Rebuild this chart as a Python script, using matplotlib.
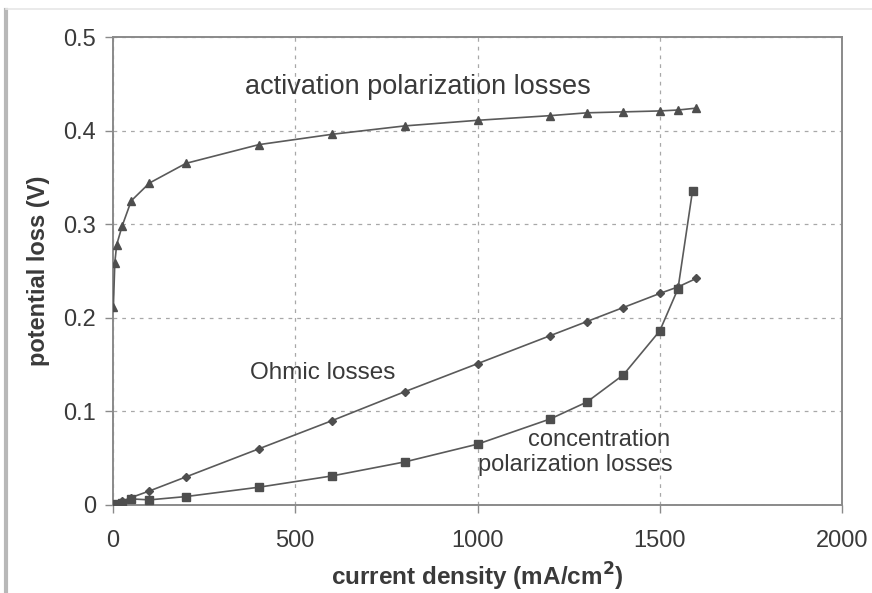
import matplotlib
matplotlib.use("Agg")
import matplotlib.pyplot as plt
from matplotlib.lines import Line2D

plt.rcParams['font.family'] = ['Liberation Sans', 'DejaVu Sans']

# current density (mA/cm2) and potential losses (V)
act_i = [1, 5, 10, 25, 50, 100, 200, 400, 600, 800, 1000, 1200, 1300, 1400, 1500, 1550, 1600]
act_v = [0.212, 0.259, 0.278, 0.298, 0.325, 0.344, 0.365, 0.385, 0.396, 0.405, 0.411,
         0.416, 0.419, 0.420, 0.421, 0.422, 0.424]

ohm_i = [0, 5, 10, 25, 50, 100, 200, 400, 600, 800, 1000, 1200, 1300, 1400, 1500, 1550, 1600]
ohm_v = [0.0, 0.001, 0.0015, 0.004, 0.008, 0.015, 0.030, 0.060, 0.090, 0.121, 0.151,
         0.181, 0.196, 0.211, 0.226, 0.233, 0.242]

conc_i = [0, 5, 10, 25, 50, 100, 200, 400, 600, 800, 1000, 1200, 1300, 1400, 1500, 1550, 1590]
conc_v = [0.0, 0.0005, 0.001, 0.002, 0.0065, 0.0055, 0.009, 0.019, 0.031, 0.046, 0.065,
          0.092, 0.110, 0.139, 0.186, 0.231, 0.336]

x_ticks = [0, 500, 1000, 1500, 2000]
y_ticks = [0, 0.1, 0.2, 0.3, 0.4, 0.5]
y_tick_labels = ['0', '0.1', '0.2', '0.3', '0.4', '0.5']

text_c = '#3a3a3a'
line_c = '#5a5a5a'
mark_c = '#4e4e4e'
frame_c = '#8a8a8a'
grid_c = '#a8a8a8'

fig = plt.figure(figsize=(8.72, 5.93), dpi=100)
ax = fig.add_axes([0.1296, 0.1484, 0.836, 0.7892])

ax.plot(act_i, act_v, color=line_c, lw=1.2, marker='^', ms=6, mfc=mark_c, mec=mark_c, zorder=3)
ax.plot(ohm_i, ohm_v, color=line_c, lw=1.2, marker='D', ms=4, mfc=mark_c, mec=mark_c, zorder=3)
ax.plot(conc_i, conc_v, color=line_c, lw=1.2, marker='s', ms=6, mfc=mark_c, mec=mark_c, zorder=3)

ax.set_xlim(0, 2000)
ax.set_ylim(0, 0.5)
ax.set_xticks(x_ticks)
ax.set_yticks(y_ticks)
ax.set_yticklabels(y_tick_labels)

for s in ax.spines.values():
    s.set_color(frame_c)
    s.set_linewidth(1.4)

ax.grid(True, color=grid_c, lw=0.9, ls=(0, (3, 4)))
ax.set_axisbelow(True)

ax.tick_params(axis='both', direction='out', length=6, width=1.0, color=frame_c,
               labelsize=17, labelcolor=text_c)
ax.tick_params(axis='x', pad=12)
ax.tick_params(axis='y', pad=6)

ax.set_xlabel('current density (mA/cm$^\\mathbf{2}$)', fontsize=17.5, fontweight='bold',
              color=text_c, labelpad=6)
ax.set_ylabel('potential loss (V)', fontsize=17, fontweight='bold', color=text_c, labelpad=10)

ax.text(837, 0.4466, 'activation polarization losses', fontsize=19.5, color=text_c,
        ha='center', va='center')
ax.text(576, 0.141, 'Ohmic losses', fontsize=17.5, color=text_c, ha='center', va='center')
ax.text(1333, 0.0694, 'concentration', fontsize=17, color=text_c, ha='center', va='center')
ax.text(1268, 0.0427, 'polarization losses', fontsize=17, color=text_c, ha='center', va='center')

# scanned page edges
fig.add_artist(Line2D([6 / 872, 6 / 872], [0, 1 - 10 / 593], transform=fig.transFigure,
                      color='#b8b8b8', lw=3))
fig.add_artist(Line2D([6 / 872, 1], [1 - 9 / 593, 1 - 9 / 593], transform=fig.transFigure,
                      color='#e6e6e6', lw=1.2))

fig.savefig('out.png', dpi=100)
